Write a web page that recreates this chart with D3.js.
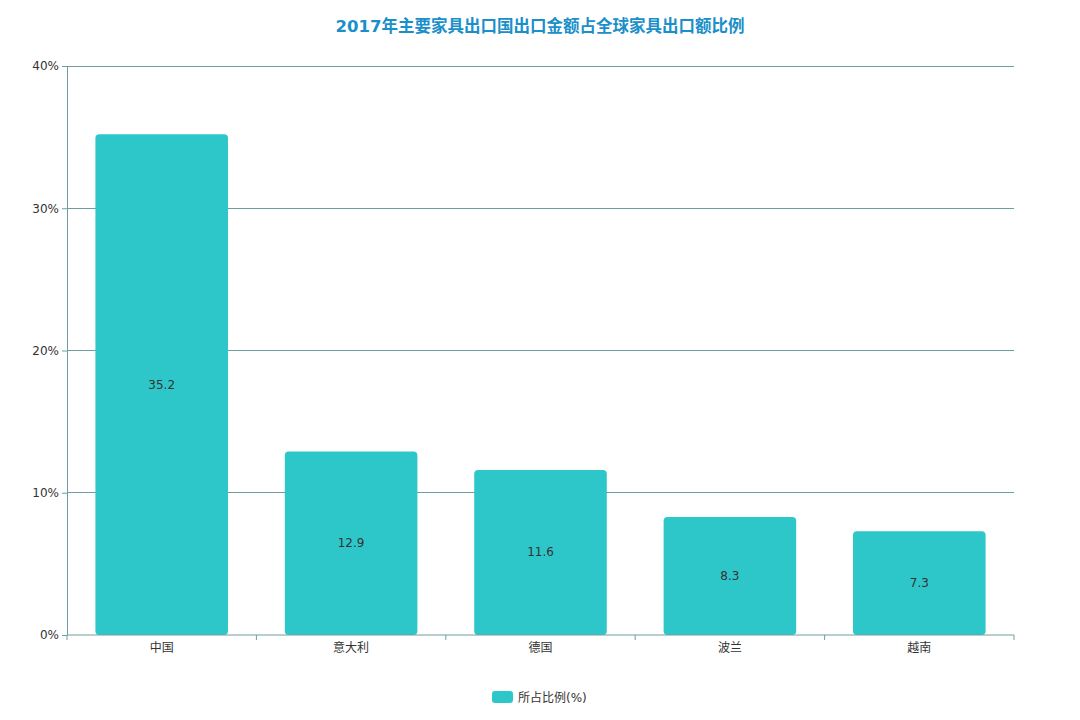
<!DOCTYPE html>
<html><head><meta charset="utf-8">
<script src="https://cdn.jsdelivr.net/npm/d3@7"></script>
<style>body{margin:0;background:#fff;font-family:"DejaVu Sans","Noto Sans CJK SC",sans-serif;}</style>
</head><body><svg id="c" width="1080" height="720"></svg>
<script>
const categories = ["中国","意大利","德国","波兰","越南"];
const values = [35.2, 12.9, 11.6, 8.3, 7.3];
const yTicks = [0, 10, 20, 30, 40];
const seriesName = "所占比例(%)";
const title = "2017年主要家具出口国出口金额占全球家具出口额比例";

const svg = d3.select("#c");
const m = {left: 67, right: 1014, top: 66, bottom: 635};
const x = d3.scaleBand().domain(categories).range([m.left, m.right]).paddingInner(0.3).paddingOuter(0.15);
const y = d3.scaleLinear().domain([0, 40]).range([m.bottom, m.top]);
const axisColor = "#6f9e9e";
const font = '"DejaVu Sans","Noto Sans CJK SC",sans-serif';

svg.append("text").attr("x", 540).attr("y", 32).attr("text-anchor", "middle")
  .attr("font-size", 16.5).attr("font-weight", "bold").attr("fill", "#1a8fc9").attr("font-family", font).text(title);

// gridlines
svg.append("g").selectAll("line").data(yTicks.filter(d => d > 0)).join("line")
  .attr("x1", m.left).attr("x2", m.right).attr("y1", d => y(d)).attr("y2", d => y(d))
  .attr("stroke", axisColor).attr("stroke-width", 1).attr("shape-rendering", "crispEdges");

// y axis
const ya = svg.append("g").attr("transform", `translate(${m.left},0)`)
  .call(d3.axisLeft(y).tickValues(yTicks).tickFormat(d => d + "%").tickSize(5).tickPadding(3));
ya.select(".domain").attr("stroke", axisColor);
ya.selectAll(".tick line").attr("stroke", axisColor);
ya.selectAll("text").attr("font-size", 12).attr("fill", "#333").attr("font-family", font);

// bars
svg.append("g").selectAll("rect").data(values).join("rect")
  .attr("x", (d, i) => x(categories[i])).attr("width", x.bandwidth())
  .attr("y", d => y(d)).attr("height", d => y(0) - y(d))
  .attr("rx", 4).attr("ry", 4).attr("fill", "#2ec7c9");

svg.append("g").selectAll("text").data(values).join("text")
  .attr("x", (d, i) => x(categories[i]) + x.bandwidth() / 2)
  .attr("y", d => (y(d) + y(0)) / 2 + 4)
  .attr("text-anchor", "middle").attr("font-size", 12).attr("fill", "#333").attr("font-family", font)
  .text(d => d);

// x axis
const boundaries = d3.range(categories.length + 1).map(i => m.left + i * (m.right - m.left) / categories.length);
const xa = svg.append("g").attr("transform", `translate(0,${m.bottom})`)
  .call(d3.axisBottom(x).tickSize(0).tickPadding(8));
xa.select(".domain").attr("stroke", axisColor).attr("d", `M${m.left},0H${m.right}`);
xa.selectAll("text").attr("font-size", 12).attr("fill", "#333").attr("font-family", font);
xa.selectAll(".bt").data(boundaries).join("line").attr("class", "bt")
  .attr("x1", d => d).attr("x2", d => d).attr("y1", 0).attr("y2", 5).attr("stroke", axisColor);

// legend
const lg = svg.append("g").attr("transform", "translate(492,691)");
lg.append("rect").attr("width", 21).attr("height", 12).attr("rx", 3).attr("fill", "#2ec7c9");
lg.append("text").attr("x", 26).attr("y", 11).attr("font-size", 12).attr("fill", "#333").attr("font-family", font).text(seriesName);
</script></body></html>
